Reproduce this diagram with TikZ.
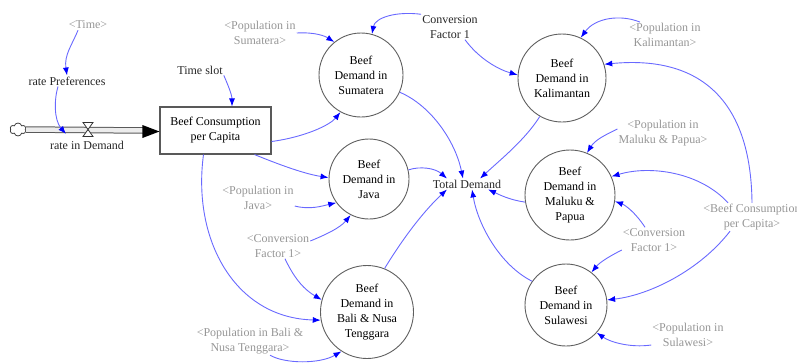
\documentclass[tikz,border=0pt]{standalone}
\usepackage{fontspec}
\setmainfont{Liberation Serif}
\usetikzlibrary{arrows.meta,shapes.symbols}
\definecolor{lnk}{RGB}{105,105,255}
\definecolor{arrowblue}{RGB}{0,0,255}
\definecolor{shadowtxt}{RGB}{150,150,150}
\definecolor{ringgray}{RGB}{95,95,95}
\tikzset{
  txt/.style={align=center, inner sep=1pt, font=\fontsize{12}{15}\selectfont},
  shadowvar/.style={txt, text=shadowtxt},
  aux/.style={txt, text=black!85},
  demand/.style={circle, draw=ringgray, line width=0.9pt, align=center, inner sep=0pt,
    font=\fontsize{12}{15}\selectfont},
  stock/.style={rectangle, draw=black!65, line width=1.1pt, align=center,
    minimum width=111pt, minimum height=47pt, font=\fontsize{12}{15}\selectfont},
  lk/.style={draw=lnk, line width=0.9pt, -{Latex[length=8pt,width=6pt,color=arrowblue]}},
}
\begin{document}
\begin{tikzpicture}[x=1pt,y=-1pt]
\useasboundingbox (0,0) rectangle (797,362);

% ---- stock, flow and its inputs ----
\node[stock] (box) at (215.5,130.5) {Beef Consumption\\per Capita};
\node[cloud, cloud puffs=6, draw=black!75, line width=0.8pt, minimum width=16pt,
      minimum height=13pt, inner sep=0pt] (src) at (18,129.5) {};
\coordinate (valve) at (88,129.5);
\draw[double=gray!15, draw=black!65, line width=1pt, double distance=4.5pt]
  (src.east) -- ([xshift=-16pt]box.west);
\fill[black] ([yshift=-1pt]box.west) -- ++(-17,6.5) -- ++(0,-13) -- cycle;
\draw[black!80, line width=0.8pt, fill=white]
  ([shift={(-5,-7)}]valve) -- ([shift={(5,-7)}]valve) -- ([shift={(-5,7)}]valve)
  -- ([shift={(5,7)}]valve) -- cycle;
\node[aux] (ratein) at (87,145) {rate in Demand};
\coordinate (rdhook) at (66,134);

\node[shadowvar] (timeR) at (88,25) {<Time>};
\node[aux] (ratePref) at (67,81) {rate Preferences};
\node[aux] (slot) at (200,70) {Time slot};

% ---- demand nodes ----
\node[demand, minimum size=84pt] (sum) at (361,75) {Beef\\Demand in\\Sumatera};
\node[demand, minimum size=88pt] (kal) at (562,78) {Beef\\Demand in\\Kalimantan};
\node[demand, minimum size=80pt] (java) at (369,179) {Beef\\Demand in\\Java};
\node[demand, minimum size=93pt] (bali) at (367,312) {Beef\\Demand in\\Bali \& Nusa\\Tenggara};
\node[demand, minimum size=90pt] (mal) at (570,195) {Beef\\Demand in\\Maluku \&\\Papua};
\node[demand, minimum size=82pt] (sul) at (566,305) {Beef\\Demand in\\Sulawesi};
\node[aux] (total) at (467,184) {Total Demand};

% ---- auxiliaries and shadow variables ----
\node[aux] (cf1) at (450,27) {Conversion\\Factor 1};
\node[shadowvar] (popSum) at (260,33) {<Population in\\Sumatera>};
\node[shadowvar] (popKal) at (665,35) {<Population in\\Kalimantan>};
\node[shadowvar] (popMal) at (663,133) {<Population in\\Maluku \& Papua>};
\node[shadowvar] (bcpc) at (752,217) {<Beef Consumption\\per Capita>};
\node[shadowvar] (cfR) at (654,240) {<Conversion\\Factor 1>};
\node[shadowvar] (popSul) at (688,335) {<Population in\\Sulawesi>};
\node[shadowvar] (popJava) at (258,198) {<Population in\\Java>};
\node[shadowvar] (cfL) at (278,246) {<Conversion\\Factor 1>};
\node[shadowvar] (popBali) at (250,341) {<Population in Bali \&\\Nusa Tenggara>};

% ---- links ----
\draw[lk] ([xshift=-10pt]timeR.south) .. controls (72,45) and (64,55) .. (ratePref.north);
\draw[lk] ([xshift=-9pt]ratePref.south) .. controls (54,100) and (54,120) .. (rdhook);
\draw[lk] (slot.south east) .. controls (228,85) and (232,95) .. ([xshift=16.5pt]box.north);

\draw[lk] ([yshift=-11pt]box.east) .. controls (305,137) and (330,125) .. (sum.-119);
\draw[lk] ([xshift=39pt]box.south) .. controls (280,165) and (305,174) .. (java.178);
\draw[lk] ([xshift=-12pt]box.south) .. controls (192,240) and (235,318) .. (bali.190);

\draw[lk] (popSum.east) .. controls (315,32) and (325,36) .. (sum.129);
\draw[lk] (cf1.north west) .. controls (395,11) and (375,18) .. (sum.75);
\draw[lk] ([xshift=15pt]cf1.south) .. controls (480,60) and (500,70) .. (kal.176);

\draw[lk] (sum.-24) .. controls (430,105) and (455,140) .. ([xshift=-4pt]total.north);
\draw[lk] (kal.-120) .. controls (525,140) and (500,160) .. ([xshift=13pt]total.north);
\draw[lk] (java.13) .. controls (420,166) and (435,168) .. ([xshift=-20pt]total.north);
\draw[lk] (bali.68) .. controls (405,235) and (425,210) .. ([xshift=-20pt]total.south);
\draw[lk] (mal.189) .. controls (510,200) and (500,195) .. ([xshift=21pt]total.south);
\draw[lk] (sul.145) .. controls (500,265) and (478,225) .. ([xshift=5pt]total.south);

\draw[lk] ([yshift=-8pt]popJava.east) .. controls (310,210) and (322,206) .. (java.-144);
\draw[lk] ([yshift=5pt]cfL.east) .. controls (325,235) and (340,228) .. (java.-117);
\draw[lk] ([xshift=7pt]cfL.south) .. controls (295,280) and (305,290) .. (bali.165);
\draw[lk] ([xshift=20pt]popBali.south) .. controls (285,364) and (320,364) .. (bali.-123);

\draw[lk] ([xshift=-25pt]popKal.north) .. controls (620,14) and (595,18) .. (kal.65);
\draw[lk] ([xshift=0pt]bcpc.north) .. controls (751,100) and (700,55) .. (kal.18);
\draw[lk] ([yshift=4pt]popMal.west) .. controls (605,135) and (595,140) .. (mal.68);
\draw[lk] ([xshift=-24pt]bcpc.north) .. controls (700,172) and (650,165) .. (mal.24);
\draw[lk] ([xshift=-9pt]cfR.north) .. controls (635,212) and (625,205) .. (mal.-8);
\draw[lk] ([yshift=-10pt]cfR.west) .. controls (610,256) and (600,262) .. (sul.52);
\draw[lk] ([xshift=-22pt]bcpc.south) .. controls (700,270) and (650,295) .. (sul.7);
\draw[lk] ([yshift=-10pt]popSul.west) .. controls (630,348) and (610,342) .. (sul.-42);
\end{tikzpicture}
\end{document}
